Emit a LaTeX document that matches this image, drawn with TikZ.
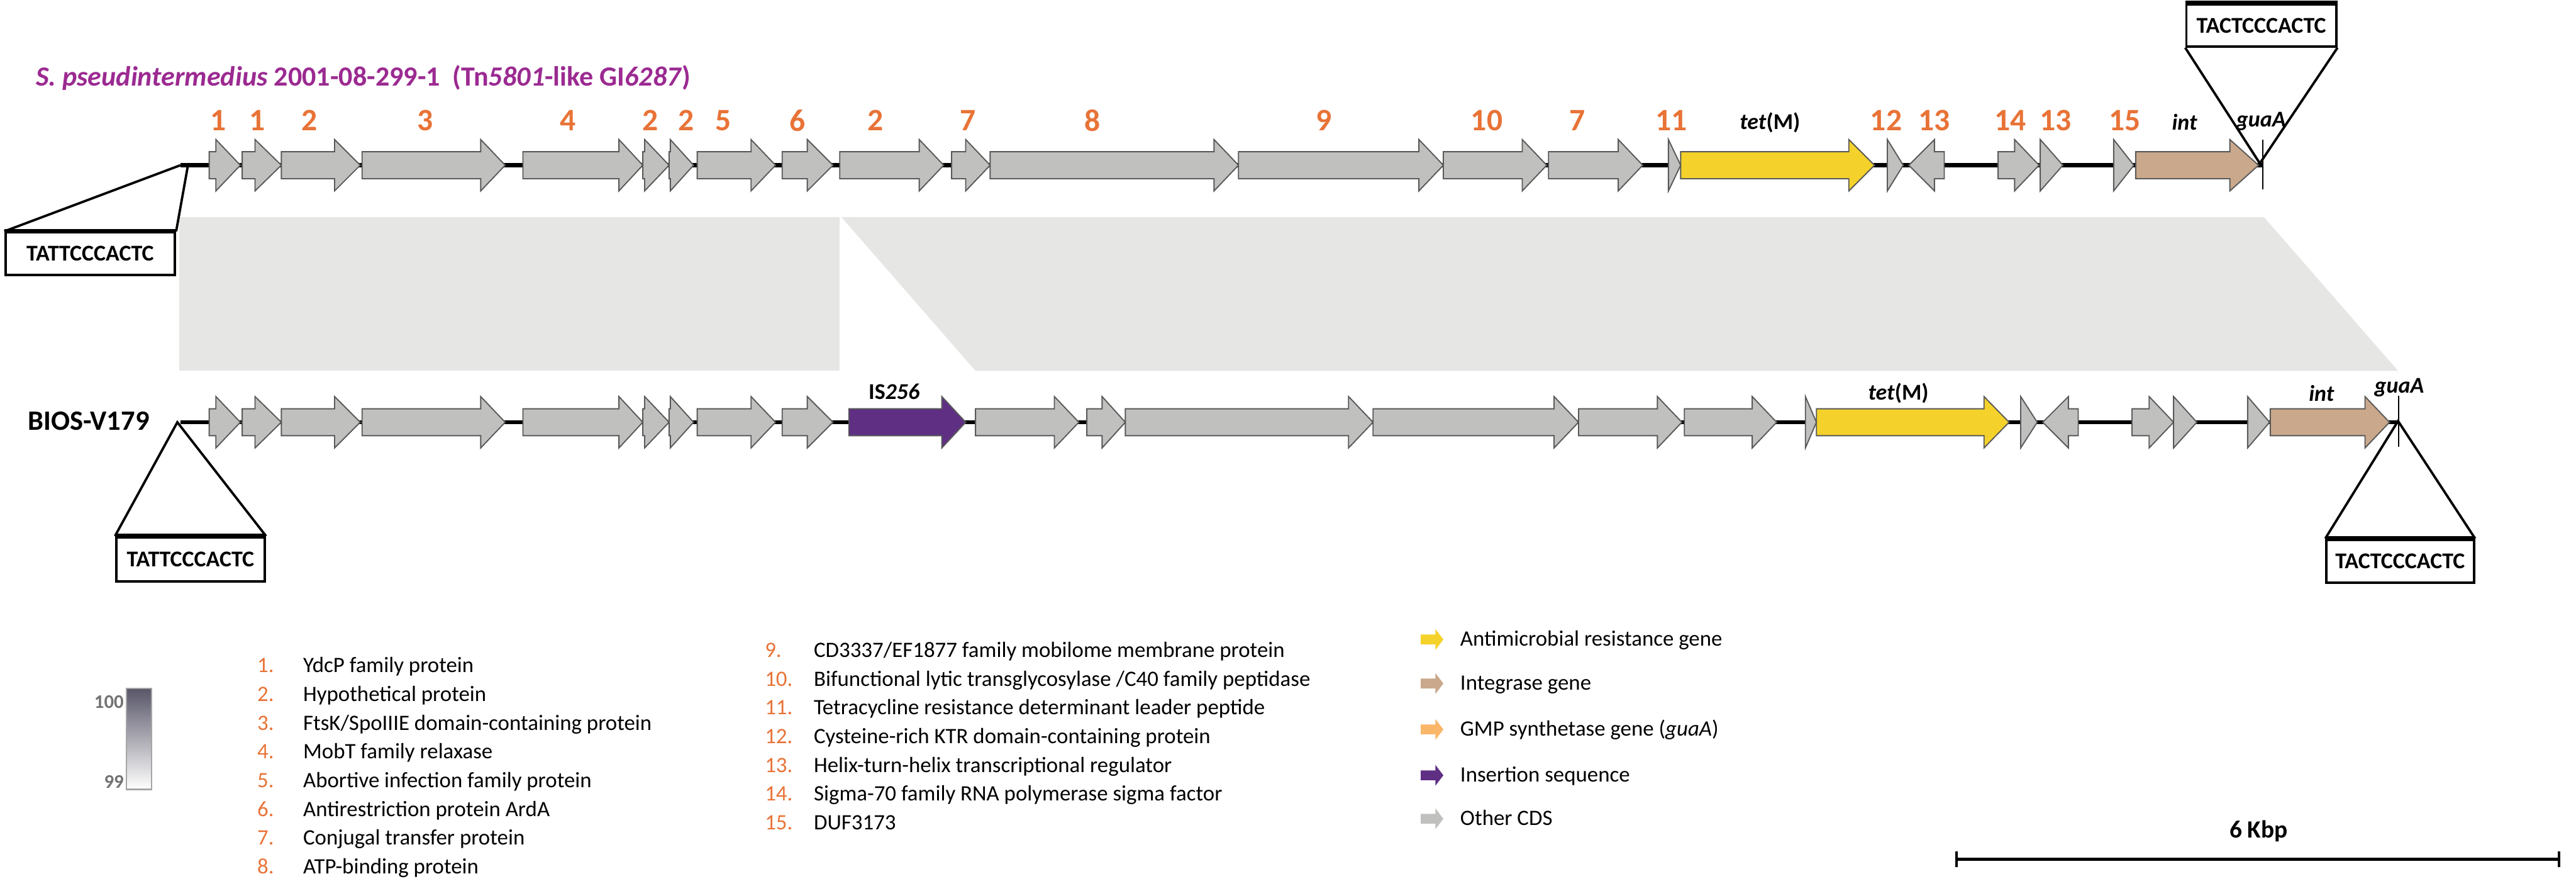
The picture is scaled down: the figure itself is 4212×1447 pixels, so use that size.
\documentclass[tikz,border=0pt]{standalone}
\usepackage{fontspec}
\setmainfont{Carlito}
\usepackage{tikz}
\usetikzlibrary{positioning}
\definecolor{cdsgrey}{RGB}{192,192,190}
\definecolor{amrgold}{RGB}{245,210,43}
\definecolor{inttan}{RGB}{201,168,139}
\definecolor{gmporange}{RGB}{250,182,105}
\definecolor{ispurple}{RGB}{95,47,132}
\definecolor{numorange}{RGB}{232,115,55}
\definecolor{titlepurple}{RGB}{155,42,145}
\definecolor{synteny}{RGB}{230,230,228}
\definecolor{barslate}{RGB}{88,86,104}

% 基因箭头: 起点, 箭头起点, 箭尖, y, 颜色
\newcommand{\gene}[5]{%
  \filldraw[cds, fill=#5] (#1,#4-22) -- (#2,#4-22) -- (#2,#4-42) -- (#3,#4)
    -- (#2,#4+42) -- (#2,#4+22) -- (#1,#4+22) -- cycle;}
% 图例小箭头: x, y, 颜色
\newcommand{\legarrow}[3]{%
  \fill[#3] (#1,#2-8) -- (#1+24,#2-8) -- (#1+24,#2-17) -- (#1+37,#2)
    -- (#1+24,#2+17) -- (#1+24,#2+8) -- (#1,#2+8) -- cycle;}

\begin{document}
\begin{tikzpicture}[x=0.01cm, y=-0.01cm,
    cds/.style={draw=black!65, line width=0.55pt},
    track/.style={line width=2pt, black},
    num/.style={text=numorange, inner sep=0pt, font=\fontsize{14.5}{16}\selectfont\bfseries},
    genelbl/.style={inner sep=0pt, font=\fontsize{10.5}{12}\selectfont\bfseries},
    seqbox/.style={draw, line width=1.1pt, fill=white, inner sep=0pt,
      font=\fontsize{10.5}{12}\selectfont\bfseries},
    legtxt/.style={anchor=base west, inner sep=0pt, font=\fontsize{10.2}{12}\selectfont},
    legnum/.style={legtxt, text=numorange}]
  \useasboundingbox (0,0) rectangle (4212,1447);

  % 同源区域
  \fill[synteny] (293,355) rectangle (1373,606);
  \fill[synteny] (1376,355) -- (3702,355) -- (3921,606) -- (1595,606) -- cycle;

  % 上方: S. pseudintermedius
  \node[anchor=west, inner sep=0pt, text=titlepurple, font=\fontsize{12.9}{14}\selectfont\bfseries]
    (titleA) at (58,127) {\textit{S. pseudintermedius} 2001-08-299-1\ \ (Tn\textit{5801}-like GI\textit{6287})};
  \coordinate (trkAL) at (295,270);
  \coordinate (trkAR) at (3700,270);
  \draw[track] (trkAL) -- (trkAR);
  \draw[line width=0.6pt] (3700,228) -- (3700,310);
  \foreach \a/\b/\c in {342/353/393, 396/417/460, 460/547/589, 592/786/826,
      855/1012/1051, 1051/1054/1094, 1094/1096/1134, 1140/1228/1268,
      1279/1320/1362, 1373/1503/1543, 1556/1579/1619, 1619/1985/2025,
      2025/2320/2360, 2360/2489/2529, 2532/2646/2686, 2728/2728/2748,
      3086/3086/3112, 3179/3163/3121, 3267/3294/3334, 3336/3336/3373,
      3456/3456/3489}
    \gene{\a}{\b}{\c}{270}{cdsgrey};
  \gene{2748}{3023}{3065}{270}{amrgold}
  \gene{3492}{3646}{3693}{270}{inttan}
  \foreach \x/\n in {357/1, 421/1, 506/2, 695/3, 929/4, 1063/2, 1122/2, 1183/5,
      1304/6, 1431/2, 1583/7, 1786/8, 2165/9, 2431/10, 2579/7, 2733/11,
      3084/12, 3163/13, 3287/14, 3361/13, 3474/15}
    \node[num] (numA\x) at (\x,197) {\n};
  \node[genelbl] (tetA) at (2894,200) {\textit{tet}(M)};
  \node[genelbl] (intA) at (3572,200) {\textit{int}};
  \node[genelbl] (guaA) at (3697,198) {\textit{guaA}};

  % 插入位点
  \node[seqbox, minimum width=2.77cm, minimum height=0.69cm] (boxTL) at (147.5,414.5) {TATTCCCACTC};
  \draw[line width=2.2pt] (boxTL.north west) -- (boxTL.north east);
  \coordinate (tlA) at (295,270);
  \coordinate (tlB) at (307,272);
  \draw[line width=1.1pt] (boxTL.north west) -- (tlA);
  \draw[line width=1.1pt] (boxTL.north east) -- (tlB);
  \node[seqbox, minimum width=2.45cm, minimum height=0.69cm] (boxTR) at (3697.5,41.5) {TACTCCCACTC};
  \draw[line width=2.2pt] (boxTR.north west) -- (boxTR.north east);
  \coordinate (trA) at (3695,267);
  \draw[line width=1.1pt] (boxTR.south west) -- (trA) -- (boxTR.south east);

  % 下方: BIOS-V179
  \node[anchor=west, inner sep=0pt, font=\fontsize{13}{15}\selectfont\bfseries] (strainB) at (45,688) {BIOS-V179};
  \coordinate (trkBL) at (295,690);
  \coordinate (trkBR) at (3922,690);
  \draw[track] (trkBL) -- (trkBR);
  \draw[line width=0.6pt] (3922,647) -- (3922,730);
  \foreach \a/\b/\c in {342/353/393, 396/417/460, 460/547/589, 592/786/826,
      855/1012/1051, 1051/1054/1094, 1094/1096/1134, 1140/1228/1268,
      1279/1320/1362, 1595/1724/1764, 1777/1802/1840, 1840/2205/2245,
      2245/2541/2581, 2581/2710/2750, 2754/2865/2905, 2952/2952/2970,
      3304/3304/3331, 3398/3382/3340, 3486/3514/3554, 3554/3554/3592,
      3675/3675/3711}
    \gene{\a}{\b}{\c}{690}{cdsgrey};
  \gene{1388}{1540}{1579}{690}{ispurple}
  \gene{2970}{3244}{3285}{690}{amrgold}
  \gene{3712}{3867}{3907}{690}{inttan}
  \node[genelbl] (isB) at (1462,640) {IS\textit{256}};
  \node[genelbl] (tetB) at (3104,643) {\textit{tet}(M)};
  \node[genelbl] (intB) at (3796,643) {\textit{int}};
  \node[genelbl] (guaB) at (3923,633) {\textit{guaA}};

  \node[seqbox, minimum width=2.43cm, minimum height=0.72cm] (boxBL) at (311.5,914) {TATTCCCACTC};
  \draw[line width=2.2pt] (boxBL.north west) -- (boxBL.north east);
  \coordinate (blA) at (290,690);
  \draw[line width=1.1pt] (boxBL.north west) -- (blA) -- (boxBL.north east);
  \node[seqbox, minimum width=2.41cm, minimum height=0.70cm] (boxBR) at (3924.5,917) {TACTCCCACTC};
  \draw[line width=2.2pt] (boxBR.north west) -- (boxBR.north east);
  \coordinate (brA) at (3921,688);
  \draw[line width=1.1pt] (boxBR.north west) -- (brA) -- (boxBR.north east);

  % 相似度色条
  \shade[top color=barslate, bottom color=white] (207,1125) rectangle (248,1290);
  \draw[black!35, line width=0.6pt] (207,1125) rectangle (248,1290);
  \node[anchor=east, inner sep=0pt, text=black!55, font=\fontsize{9}{10}\selectfont\bfseries] (pid100) at (203,1147) {100};
  \node[anchor=east, inner sep=0pt, text=black!55, font=\fontsize{9}{10}\selectfont\bfseries] (pid99) at (203,1278) {99};

  % 基因注释
  \foreach \t [count=\k] in {YdcP family protein, Hypothetical protein,
      FtsK/SpoIIIE domain-containing protein, MobT family relaxase,
      Abortive infection family protein, Antirestriction protein ArdA,
      Conjugal transfer protein, ATP-binding protein} {
    \node[legnum] (ln\k) at (420,{1099+47*(\k-1)}) {\k.};
    \node[legtxt] (lt\k) at (495,{1099+47*(\k-1)}) {\t};
  }
  \foreach \t [count=\k from 9] in {CD3337/EF1877 family mobilome membrane protein,
      Bifunctional lytic transglycosylase /C40 family peptidase,
      Tetracycline resistance determinant leader peptide,
      Cysteine-rich KTR domain-containing protein,
      Helix-turn-helix transcriptional regulator,
      Sigma-70 family RNA polymerase sigma factor, DUF3173} {
    \node[legnum] (ln\k) at (1250,{1074+47*(\k-9)}) {\k.};
    \node[legtxt] (lt\k) at (1330,{1074+47*(\k-9)}) {\t};
  }

  % 颜色图例
  \legarrow{2323}{1045}{amrgold}
  \legarrow{2323}{1117}{inttan}
  \legarrow{2323}{1192}{gmporange}
  \legarrow{2323}{1267}{ispurple}
  \legarrow{2323}{1338}{cdsgrey}
  \node[legtxt] (keyAmr) at (2387,1056) {Antimicrobial resistance gene};
  \node[legtxt] (keyInt) at (2387,1128) {Integrase gene};
  \node[legtxt] (keyGmp) at (2387,1203) {GMP synthetase gene (\textit{guaA})};
  \node[legtxt] (keyIs) at (2387,1278) {Insertion sequence};
  \node[legtxt] (keyCds) at (2387,1349) {Other CDS};

  % 比例尺
  \coordinate (sbL) at (3199,1404);
  \coordinate (sbR) at (4184,1404);
  \draw[line width=1.5pt] (sbL) -- (sbR);
  \draw[line width=1pt] (3199,1391) -- (3199,1417) (4184,1391) -- (4184,1417);
  \node[inner sep=0pt, font=\fontsize{11.5}{13}\selectfont\bfseries] (sbLbl) at (3693,1358) {6 Kbp};
\end{tikzpicture}
\end{document}
